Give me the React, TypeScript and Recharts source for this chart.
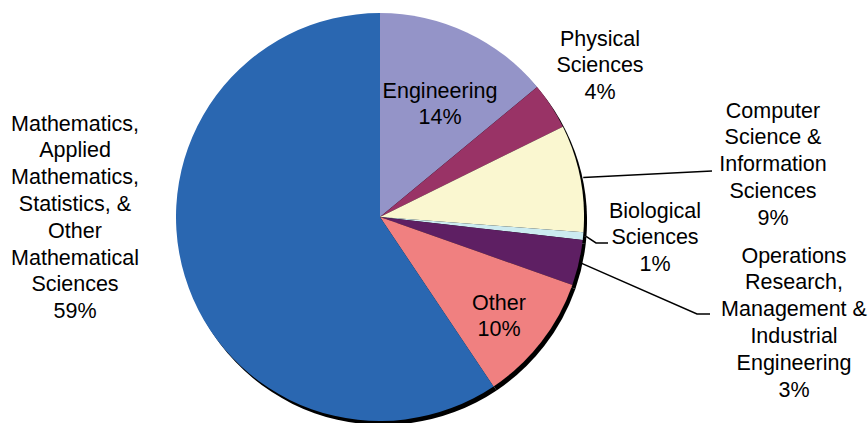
import React from 'react';
import { PieChart, Pie, Cell } from 'recharts';

// slice shares (labels show the rounded figures)
const CATEGORIES = [
  'Engineering',
  'Physical Sciences',
  'Computer Science & Information Sciences',
  'Biological Sciences',
  'Operations Research, Management & Industrial Engineering',
  'Other',
  'Mathematics, Applied Mathematics, Statistics, & Other Mathematical Sciences',
];
const SHARES = [14.0, 3.7, 8.5, 0.6, 3.6, 10.2, 59.4];
const PCT_LABELS = ['14%', '4%', '9%', '1%', '3%', '10%', '59%'];
const LABEL_LINES = [
  ['Engineering'],
  ['Physical', 'Sciences'],
  ['Computer', 'Science &', 'Information', 'Sciences'],
  ['Biological', 'Sciences'],
  ['Operations', 'Research,', 'Management &', 'Industrial', 'Engineering'],
  ['Other'],
  ['Mathematics,', 'Applied', 'Mathematics,', 'Statistics, &', 'Other', 'Mathematical', 'Sciences'],
];

const COLORS = ['#9494C8', '#993366', '#FAF7D0', '#CCEBF0', '#5E1F63', '#F08080', '#2A67B1'];

// where each label block sits (centre x, centre y of first line) and leader elbows
const LABEL_POS = [
  { x: 440, y: 90 },
  { x: 600, y: 38 },
  { x: 773, y: 110 },
  { x: 655, y: 210 },
  { x: 794, y: 255 },
  { x: 499, y: 302 },
  { x: 75, y: 123 },
];
const LEADERS: Record<number, { x: number; y: number }[]> = {
  2: [{ x: 712, y: 171 }],
  3: [{ x: 596, y: 243 }, { x: 608, y: 243 }],
  4: [{ x: 697, y: 314 }, { x: 710, y: 314 }],
};

const LINE_H = 26.8;
const FONT = '"Liberation Sans", Arial, sans-serif';

const data = CATEGORIES.map((name, i) => ({ name, value: SHARES[i], pct: PCT_LABELS[i] }));

const RADIAN = Math.PI / 180;

const renderLabel = (props: any) => {
  const { cx, cy, midAngle, outerRadius, index } = props;
  const pos = LABEL_POS[index];
  const lines = [...LABEL_LINES[index], PCT_LABELS[index]];
  const leader = LEADERS[index];
  let path = null;
  if (leader) {
    const sx = cx + (outerRadius + 3) * Math.cos(-midAngle * RADIAN);
    const sy = cy + (outerRadius + 3) * Math.sin(-midAngle * RADIAN);
    const d = `M${sx},${sy}` + leader.map((p) => ` L${p.x},${p.y}`).join('');
    path = <path d={d} stroke="#000" strokeWidth={1.5} fill="none" />;
  }
  return (
    <g key={`lbl-${index}`}>
      {path}
      {lines.map((t, j) => (
        <text
          key={j}
          x={pos.x}
          y={pos.y + j * LINE_H + 7.5}
          textAnchor="middle"
          fontFamily={FONT}
          fontSize={21.5}
          fill="#000"
        >
          {t}
        </text>
      ))}
    </g>
  );
};

const pieProps = {
  dataKey: 'value',
  nameKey: 'name',
  cx: 380,
  cy: 217,
  outerRadius: 204,
  startAngle: 90,
  endAngle: -270,
  stroke: 'none',
  isAnimationActive: false,
};

export default function App() {
  return (
    <div style={{ position: 'absolute', left: 0, top: 0, width: 868, height: 423, background: '#fff', overflow: 'hidden' }}>
      {/* slices, with a hard black drop shadow cast by the whole disc */}
      <div style={{ position: 'absolute', left: 0, top: 0, filter: 'drop-shadow(3px 4px 0 #000)' }}>
        <PieChart width={868} height={423} margin={{ top: 0, right: 0, bottom: 0, left: 0 }}>
          <Pie data={data} {...pieProps}>
            {data.map((d, i) => (
              <Cell key={d.name} fill={COLORS[i]} />
            ))}
          </Pie>
        </PieChart>
      </div>
      {/* labels and leader lines on top (same pie geometry, no fill) */}
      <div style={{ position: 'absolute', left: 0, top: 0 }}>
        <PieChart width={868} height={423} margin={{ top: 0, right: 0, bottom: 0, left: 0 }}>
          <Pie data={data} {...pieProps} fill="none" label={renderLabel} labelLine={false}>
            {data.map((d) => (
              <Cell key={d.name} fill="none" />
            ))}
          </Pie>
        </PieChart>
      </div>
    </div>
  );
}
